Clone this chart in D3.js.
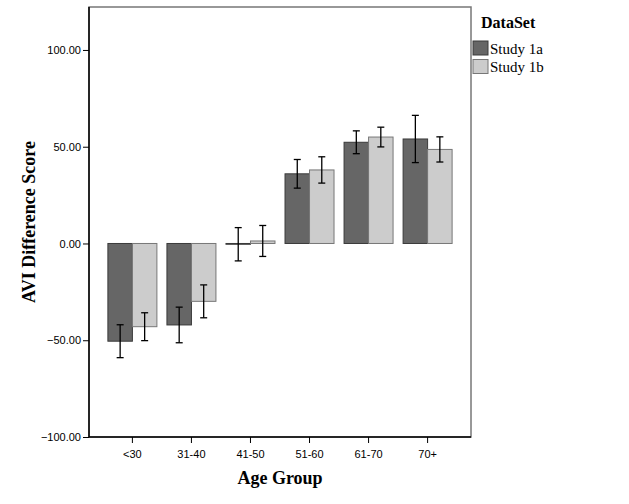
<!DOCTYPE html>
<html>
<head>
<meta charset="utf-8">
<script src="https://cdn.jsdelivr.net/npm/d3@7"></script>
<style>
  body { margin: 0; background: #fff; }
  .tick text { font-family: "Liberation Sans", Arial, sans-serif; font-size: 11px; fill: #000; }
</style>
</head>
<body>
<div id="chart"></div>
<script>
// age groups and the two studies
var ageGroups = ['<30', '31-40', '41-50', '51-60', '61-70', '70+'];
var seriesNames = ['Study 1a', 'Study 1b'];

// mean AVI difference score per age group
var study1a = [-50.5, -42.1, -0.4, 36.0, 52.3, 54.0];
var study1b = [-43.0, -29.9, 1.3, 38.0, 55.0, 48.6];

// half-length of the error bars
var study1aErr = [8.5, 9.2, 8.6, 7.4, 5.9, 12.2];
var study1bErr = [7.2, 8.5, 8.0, 6.8, 5.1, 6.5];

var yTicks = [-100, -50, 0, 50, 100];

var w = 629, h = 504;
// plot box (note: "top" is taken by window.top, so use other names)
var plotL = 89, plotR = 471, plotT = 7, plotB = 437;

var colors = d3.scaleOrdinal()
  .domain(seriesNames)
  .range(['#666666', '#cccccc']);
var strokes = d3.scaleOrdinal()
  .domain(seriesNames)
  .range(['#3a3a3a', '#777777']);

var rows = [];
ageGroups.forEach(function(g, i) {
  rows.push({ group: g, series: 'Study 1a', value: study1a[i], err: study1aErr[i] });
  rows.push({ group: g, series: 'Study 1b', value: study1b[i], err: study1bErr[i] });
});

var svg = d3.select('#chart')
  .append('svg')
    .attr('width', w)
    .attr('height', h);

var xScale = d3.scaleBand()
  .domain(ageGroups)
  .range([plotL, plotR])
  .paddingInner(0.17)
  .paddingOuter(0.32);

var xSub = d3.scaleBand()
  .domain(seriesNames)
  .range([0, xScale.bandwidth()]);

var yScale = d3.scaleLinear()
  .domain([-100, 122.2])
  .range([plotB, plotT]);

// frame round the plot
svg.append('rect')
  .attr('x', plotL)
  .attr('y', plotT)
  .attr('width', plotR - plotL)
  .attr('height', plotB - plotT)
  .attr('fill', 'none')
  .attr('stroke', '#777')
  .attr('stroke-width', 1.5);

// bars
svg.selectAll('.bar')
  .data(rows)
  .enter()
  .append('rect')
    .attr('class', 'bar')
    .attr('x', d => xScale(d.group) + xSub(d.series))
    .attr('y', d => yScale(Math.max(0, d.value)))
    .attr('width', xSub.bandwidth())
    .attr('height', d => Math.abs(yScale(d.value) - yScale(0)))
    .attr('fill', d => colors(d.series))
    .attr('stroke', d => strokes(d.series))
    .attr('stroke-width', 1);

// error bars
var errG = svg.selectAll('.err')
  .data(rows)
  .enter()
  .append('g')
    .attr('class', 'err')
    .attr('transform', d => 'translate(' + (xScale(d.group) + xSub(d.series) + xSub.bandwidth() / 2) + ',0)');

errG.append('line')
  .attr('y1', d => yScale(d.value + d.err))
  .attr('y2', d => yScale(d.value - d.err))
  .attr('stroke', '#000')
  .attr('stroke-width', 1.3);

errG.append('line')
  .attr('x1', -3.5).attr('x2', 3.5)
  .attr('y1', d => yScale(d.value + d.err))
  .attr('y2', d => yScale(d.value + d.err))
  .attr('stroke', '#000')
  .attr('stroke-width', 1.3);

errG.append('line')
  .attr('x1', -3.5).attr('x2', 3.5)
  .attr('y1', d => yScale(d.value - d.err))
  .attr('y2', d => yScale(d.value - d.err))
  .attr('stroke', '#000')
  .attr('stroke-width', 1.3);

// axes
var yAxis = d3.axisLeft(yScale)
  .tickValues(yTicks)
  .tickFormat(d3.format('.2f'))
  .tickSize(6)
  .tickPadding(2);

svg.append('g')
  .attr('transform', 'translate(' + plotL + ',0)')
  .call(yAxis)
  .call(g => g.select('.domain').attr('stroke', '#000').attr('stroke-width', 1.5)
    .attr('d', 'M0,' + plotT + 'V' + plotB));

var xAxis = d3.axisBottom(xScale)
  .tickSize(6)
  .tickPadding(7);

svg.append('g')
  .attr('transform', 'translate(0,' + plotB + ')')
  .call(xAxis)
  .call(g => g.select('.domain').attr('stroke', '#000').attr('stroke-width', 1.5)
    .attr('d', 'M' + plotL + ',0H' + plotR));

// axis titles
svg.append('text')
  .attr('transform', 'translate(35,' + ((plotT + plotB) / 2) + ') rotate(-90)')
  .attr('text-anchor', 'middle')
  .style('font-family', '"Liberation Serif", "Times New Roman", serif')
  .style('font-weight', 'bold')
  .style('font-size', '18px')
  .text('AVI Difference Score');

svg.append('text')
  .attr('x', (plotL + plotR) / 2)
  .attr('y', 484)
  .attr('text-anchor', 'middle')
  .style('font-family', '"Liberation Serif", "Times New Roman", serif')
  .style('font-weight', 'bold')
  .style('font-size', '18px')
  .text('Age Group');

// legend
var legend = svg.append('g')
  .attr('transform', 'translate(473,0)');

legend.append('text')
  .attr('x', 8)
  .attr('y', 28)
  .style('font-family', '"Liberation Serif", "Times New Roman", serif')
  .style('font-size', '16px')
  .style('font-weight', 'bold')
  .text('DataSet');

var items = legend.selectAll('.legend-item')
  .data(seriesNames)
  .enter()
  .append('g')
    .attr('class', 'legend-item')
    .attr('transform', (d, i) => 'translate(0,' + (41 + i * 18.5) + ')');

items.append('rect')
  .attr('width', 15)
  .attr('height', 14)
  .attr('fill', d => colors(d))
  .attr('stroke', d => strokes(d));

items.append('text')
  .attr('x', 17)
  .attr('y', 12.5)
  .style('font-family', '"Liberation Serif", "Times New Roman", serif')
  .style('font-size', '15px')
  .text(d => d);
</script>
</body>
</html>
